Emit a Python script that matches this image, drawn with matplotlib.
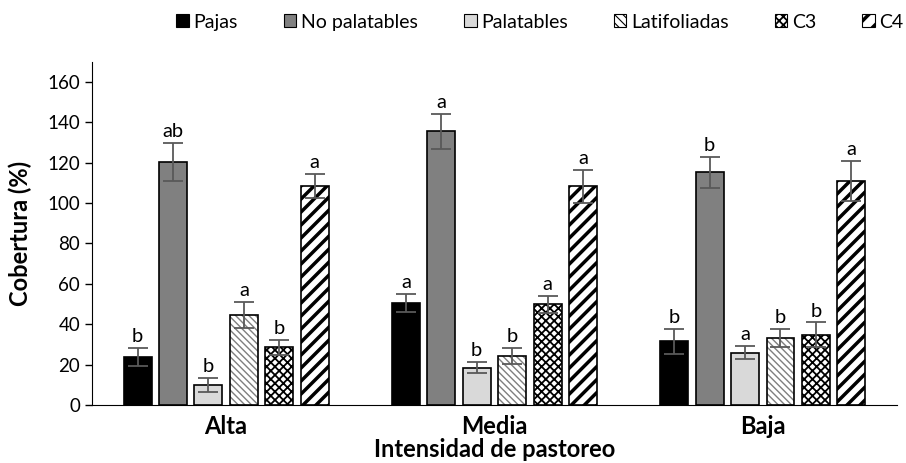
import numpy as np
import matplotlib.pyplot as plt
from matplotlib.patches import Patch
from matplotlib.collections import LineCollection
from matplotlib.transforms import IdentityTransform

plt.rcParams['font.family'] = ['Lato', 'DejaVu Sans']

grupos = ['Alta', 'Media', 'Baja']
series = ['Pajas', 'No palatables', 'Palatables', 'Latifoliadas', 'C3', 'C4']

pajas = [23.8, 50.5, 31.5]
no_palatables = [120.5, 135.6, 115.2]
palatables = [10.0, 18.4, 25.9]
latifoliadas = [44.6, 24.4, 33.1]
c3 = [28.6, 50.0, 34.8]
c4 = [108.3, 108.3, 111.1]

err_pajas = [4.5, 4.6, 6.2]
err_no_pal = [9.5, 8.7, 7.7]
err_pal = [3.4, 2.8, 3.3]
err_latif = [6.5, 4.0, 4.6]
err_c3 = [3.7, 4.2, 6.1]
err_c4 = [6.0, 8.2, 9.9]

letras_pajas = ['b', 'a', 'b']
letras_no_pal = ['ab', 'a', 'b']
letras_pal = ['b', 'b', 'a']
letras_latif = ['a', 'b', 'b']
letras_c3 = ['b', 'a', 'b']
letras_c4 = ['a', 'a', 'a']

valores = [pajas, no_palatables, palatables, latifoliadas, c3, c4]
errores = [err_pajas, err_no_pal, err_pal, err_latif, err_c3, err_c4]
letras = [letras_pajas, letras_no_pal, letras_pal, letras_latif, letras_c3, letras_c4]

# (relleno, trama, color de trama, grosor de trama)
estilos = [
    ('#000000', None, '#000000', 1.0),
    ('#808080', None, '#000000', 1.0),
    ('#d9d9d9', None, '#000000', 1.0),
    ('#ffffff', '\\\\\\\\\\', '#7f7f7f', 1.0),
    ('#ffffff', 'xxxx', '#000000', 1.3),
    ('#ffffff', None, '#000000', 1.0),   # rayas de C4 dibujadas aparte
]

fig = plt.figure(figsize=(9.06, 4.63), dpi=100)
ax = fig.add_axes([0.1015, 0.1253, 0.8885, 0.7413])
ax.set_xlim(-0.5, 2.5)
ax.set_ylim(0, 170)

x = np.arange(len(grupos))
ancho = 0.104
paso = 0.132

barras_c4 = None
for i, (vals, errs, lets) in enumerate(zip(valores, errores, letras)):
    fc, hatch, hc, hlw = estilos[i]
    pos = x + (i - 2.5) * paso
    plt.rcParams['hatch.linewidth'] = hlw
    ax.bar(pos, vals, width=ancho, color=fc, edgecolor=hc, hatch=hatch,
           linewidth=0, zorder=2)
    borde = ax.bar(pos, vals, width=ancho, fill=False, edgecolor='black', linewidth=1.2, zorder=3)
    if i == 5:
        barras_c4 = borde
    ax.errorbar(pos, vals, yerr=errs, fmt='none', ecolor='#595959', elinewidth=1.3,
                capsize=7, capthick=1.3, zorder=4)
    for p, v, e, t in zip(pos, vals, errs, lets):
        ax.annotate(t, (p, v + e), xytext=(0, 2), textcoords='offset points',
                    ha='center', va='bottom', fontsize=14.5)

# rayas diagonales anchas para C4 (en pixeles, recortadas a cada barra)
for b in barras_c4:
    bb = b.get_window_extent()
    segs = []
    for c in np.arange(bb.x0 - bb.y1 - 13, bb.x1 - bb.y0 + 13, 13):
        segs.append([(bb.x0 - 10, bb.x0 - 10 - c), (bb.x1 + 10, bb.x1 + 10 - c)])
    lc = LineCollection(segs, colors='black', linewidths=2.5,
                        transform=IdentityTransform(), zorder=2.5)
    ax.add_collection(lc, autolim=False)
    lc.set_clip_path(b)

ax.set_yticks(range(0, 161, 20))
ax.set_xticks(x)
ax.set_xticklabels(grupos, fontsize=17, fontweight='bold')
ax.tick_params(axis='x', length=0, pad=7)
ax.tick_params(axis='y', labelsize=13.5, length=5, direction='out', width=1)
for s in ['top', 'right']:
    ax.spines[s].set_visible(False)
ax.set_ylabel('Cobertura (%)', fontsize=17, fontweight='bold')
ax.yaxis.set_label_coords(-0.074, 0.5)
ax.set_xlabel('Intensidad de pastoreo', fontsize=17, fontweight='bold')
ax.xaxis.set_label_coords(0.5, -0.097)

hatch_leyenda = [None, None, None, '\\\\\\\\', 'xxxx', '//']
grosor_leyenda = [1.0, 1.0, 1.0, 0.8, 1.3, 2.5]
handles = []
for i, nombre in enumerate(series):
    handles.append(Patch(facecolor=estilos[i][0], edgecolor='black', hatch=hatch_leyenda[i],
                         label=nombre, linewidth=0.8))
plt.rcParams['hatch.linewidth'] = 1.0
leg = fig.legend(handles=handles, loc='center', bbox_to_anchor=(0.596, 0.952), ncol=6,
                 frameon=False, fontsize=14, handlelength=0.65, handleheight=0.65,
                 handletextpad=0.25, columnspacing=2.35, borderpad=0)
for p, g in zip(leg.get_patches(), grosor_leyenda):
    if hasattr(p, 'set_hatch_linewidth'):
        p.set_hatch_linewidth(g)
    else:
        p._hatch_linewidth = g

fig.savefig('out.png', dpi=100)
